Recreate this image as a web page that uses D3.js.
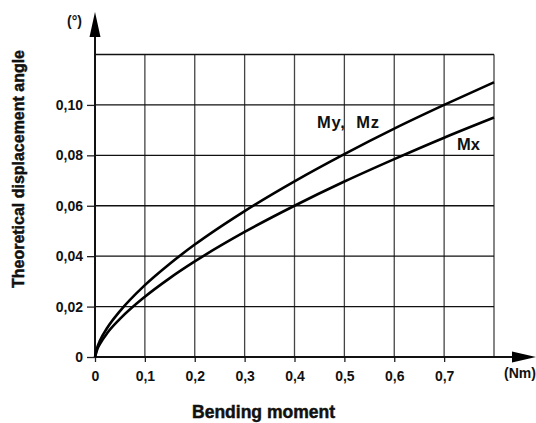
<!DOCTYPE html>
<html>
<head>
<meta charset="utf-8">
<script src="https://cdn.jsdelivr.net/npm/d3@7"></script>
<style>
body { margin: 0; background: #fff; }
svg text { font-family: "Liberation Sans", Arial, sans-serif; font-weight: bold; fill: #111; }
.title { stroke: #111; stroke-width: 0.5; }
</style>
</head>
<body>
<div id="chart"></div>
<script>
// bending moment (Nm)
var moment = [0, 0.005, 0.01, 0.025, 0.05, 0.1, 0.15, 0.2, 0.3, 0.4, 0.5, 0.6, 0.7, 0.8];
// displacement angle (deg)
var angleMyMz = [0, 0.0041, 0.0065, 0.0117, 0.0182, 0.0285, 0.0370, 0.0446, 0.0579, 0.0697, 0.0805, 0.0906, 0.1000, 0.1090];
var angleMx = [0, 0.0033, 0.0052, 0.0096, 0.0151, 0.0239, 0.0313, 0.0379, 0.0496, 0.0600, 0.0696, 0.0785, 0.0870, 0.0950];

var xTicks = [0, 0.1, 0.2, 0.3, 0.4, 0.5, 0.6, 0.7];
var yTicks = [0, 0.02, 0.04, 0.06, 0.08, 0.10];
var xGrid = [0.1, 0.2, 0.3, 0.4, 0.5, 0.6, 0.7, 0.8];
var yGrid = [0.02, 0.04, 0.06, 0.08, 0.10, 0.12];

var width = 536, height = 423;
var margin = { left: 95, top: 54.5, right: 42, bottom: 66 };

var x = d3.scaleLinear().domain([0, 0.8]).range([margin.left, width - margin.right]);
var y = d3.scaleLinear().domain([0, 0.12]).range([height - margin.bottom, margin.top]);

var svg = d3.select("#chart").append("svg")
	.attr("width", width).attr("height", height);

// grid
svg.append("g").selectAll("line").data(xGrid).enter().append("line")
	.attr("x1", function(d) { return x(d); }).attr("x2", function(d) { return x(d); })
	.attr("y1", y(0)).attr("y2", y(0.12))
	.attr("stroke", "#444").attr("stroke-width", 1.3);
svg.append("g").selectAll("line").data(yGrid).enter().append("line")
	.attr("x1", x(0)).attr("x2", x(0.8))
	.attr("y1", function(d) { return y(d); }).attr("y2", function(d) { return y(d); })
	.attr("stroke", "#111").attr("stroke-width", 1.3);

// axes
var xAxis = svg.append("g").attr("transform", "translate(0," + y(0) + ")")
	.call(d3.axisBottom(x).tickValues(xTicks).tickSize(5).tickPadding(6)
		.tickFormat(function(d) { return d === 0 ? "0" : d3.format(".1f")(d).replace(".", ","); }));
var yAxis = svg.append("g").attr("transform", "translate(" + x(0) + ",0)")
	.call(d3.axisLeft(y).tickValues(yTicks).tickSize(8).tickPadding(4)
		.tickFormat(function(d) { return d === 0 ? "0" : d3.format(".2f")(d).replace(".", ","); }));
[xAxis, yAxis].forEach(function(g) {
	g.select(".domain").remove();
	g.selectAll(".tick line").attr("stroke", "#222").attr("stroke-width", 1.3);
	g.selectAll(".tick text").attr("font-size", 14).attr("fill", "#111")
		.style("font-family", "'Liberation Sans', Arial, sans-serif").style("font-weight", "bold");
});
xAxis.selectAll(".tick text").attr("dy", "0.9em");

// axis lines with arrows
svg.append("line").attr("x1", x(0)).attr("x2", 520).attr("y1", y(0)).attr("y2", y(0))
	.attr("stroke", "#111").attr("stroke-width", 2);
svg.append("path").attr("d", "M512," + (y(0) - 5.5) + "L536," + y(0) + "L512," + (y(0) + 5.5) + "Z").attr("fill", "#000");
svg.append("line").attr("x1", x(0)).attr("x2", x(0)).attr("y1", y(0)).attr("y2", 30)
	.attr("stroke", "#111").attr("stroke-width", 2);
svg.append("path").attr("d", "M" + (x(0) - 5.5) + ",37L" + x(0) + ",12L" + (x(0) + 5.5) + ",37Z").attr("fill", "#000");

// curves
var line = d3.line().curve(d3.curveMonotoneX)
	.x(function(d, i) { return x(moment[i]); })
	.y(function(d) { return y(d); });
svg.append("path").datum(angleMyMz).attr("d", line)
	.attr("fill", "none").attr("stroke", "#000").attr("stroke-width", 2.6);
svg.append("path").datum(angleMx).attr("d", line)
	.attr("fill", "none").attr("stroke", "#000").attr("stroke-width", 2.6);

// labels
svg.append("text").attr("x", 317).attr("y", 127.5).attr("font-size", 16.5)
	.attr("textLength", 62).style("white-space", "pre").text("My,  Mz");
svg.append("text").attr("x", 457).attr("y", 149.5).attr("font-size", 16.5).text("Mx");
svg.append("text").attr("x", 74.5).attr("y", 26).attr("text-anchor", "middle").attr("font-size", 14).text("(°)");
svg.append("text").attr("x", 504).attr("y", 377.5).attr("font-size", 14).text("(Nm)");
svg.append("text").attr("class", "title").attr("x", 263.5).attr("y", 418).attr("text-anchor", "middle")
	.attr("font-size", 18.5).attr("textLength", 143).attr("lengthAdjust", "spacingAndGlyphs").text("Bending moment");
svg.append("text").attr("class", "title").attr("text-anchor", "middle").attr("font-size", 16.5)
	.attr("textLength", 238).attr("lengthAdjust", "spacingAndGlyphs")
	.attr("transform", "translate(23.5,169) rotate(-90)").text("Theoretical displacement angle");
</script>
</body>
</html>
